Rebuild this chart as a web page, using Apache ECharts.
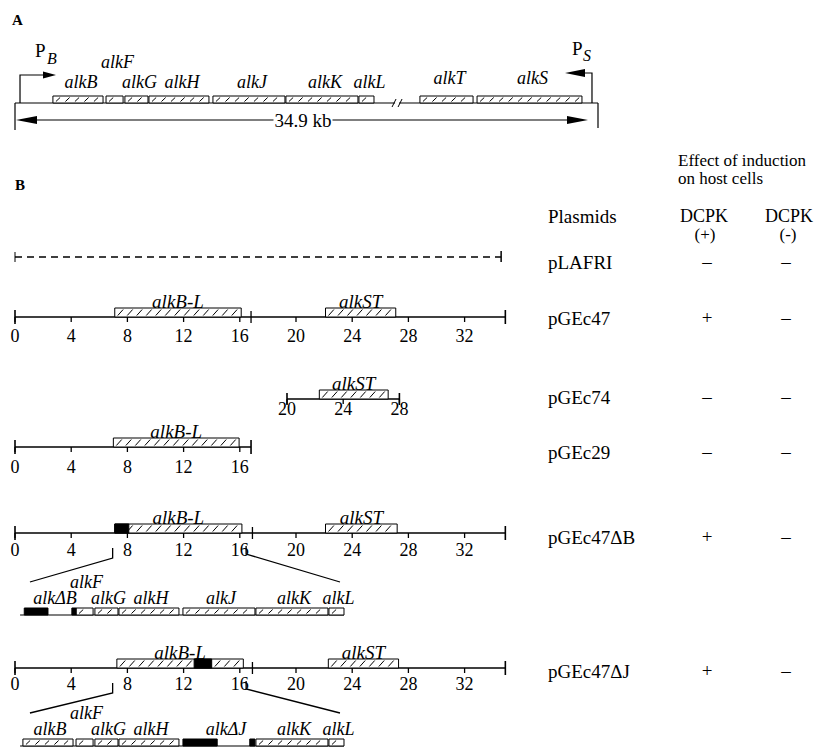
<!DOCTYPE html>
<html><head><meta charset="utf-8">
<script src="https://cdn.jsdelivr.net/npm/echarts@6/dist/echarts.min.js"></script>
<style>html,body{margin:0;padding:0;background:#fff}#c{width:821px;height:747px}</style>
</head><body><div id="c"></div>
<script>
// ---------- DATA ----------
// Panel A: schematic alk gene map (map units, total 34.9 kb)
const mapGenes = ['alkB','alkF','alkG','alkH','alkJ','alkK','alkL','alkT','alkS'];
const mapStart = [2.27, 5.45, 6.58, 8.02, 11.85, 16.22, 20.59, 24.24, 27.66];
const mapEnd   = [5.27, 6.47, 7.96, 11.61, 16.16, 20.53, 21.49, 27.42, 33.94];
const mapTotalKb = 34.9;
const mapBreak = 22.87;
const promoterB = 0.3, promoterS = 34.54;
const totalLabel = '34.9 kb';

// Expanded maps (same map units as panel A)
const deltaBLabels = ['alkΔB','alkF','alkG','alkH','alkJ','alkK','alkL'];
const deltaBBlack = [[2.35, 3.77], [5.2, 5.45]];
const deltaJLabels = ['alkB','alkF','alkG','alkH','alkΔJ','alkK','alkL'];
const deltaJBlack = [[11.85, 13.9], [15.85, 16.16]];
const expandedStart = [2.1, 2.1];

// Panel B: plasmids (kb)
const plasmids = ['pLAFRI','pGEc47','pGEc74','pGEc29','pGEc47ΔB','pGEc47ΔJ'];
const plasmidStart = [0, 0, 20, 0, 0, 0];
const plasmidEnd   = [34.6, 34.9, 28, 16.8, 34.9, 34.9];
const plasmidJoin  = [null, 16.8, null, null, 16.9, 16.9];
const rowTicks = [[], [0,4,8,12,16,20,24,28,32], [20,24,28], [0,4,8,12,16], [0,4,8,12,16,20,24,28,32], [0,4,8,12,16,20,24,28,32]];
const alkBLStart = [null, 7.1, null, 7.0, 7.1, 7.25];
const alkBLEnd   = [null, 16.1, null, 15.95, 16.15, 16.25];
const alkSTStart = [null, 22.1, 22.3, null, 22.1, 22.3];
const alkSTEnd   = [null, 27.1, 27.2, null, 27.2, 27.3];
const deletionStart = [null, null, null, null, 7.1, 12.75];
const deletionEnd   = [null, null, null, null, 8.1, 14.0];
const inductionPlus  = ['–','+','–','–','+','+'];
const inductionMinus = ['–','–','–','–','–','–'];
const bracketTopKb = [6.95, 16.45];
const bracketMapU  = [2.69, 21.25];

// ---------- LAYOUT ----------
const L = {
  mapA: 103,
  expanded: [615, 746],
  rowY: [257, 317, 399, 447, 533, 668],
  rowShift: [0, 0, -9, 0, 0, 0],
  tickLabelGap: [0, 19, 10, 20, 17, 16],
  labelY: [262, 318, 397, 452, 537, 671],
  colPlasmid: 548, colPlus: 707, colMinus: 786
};
const SERIF = '"Liberation Serif", "Times New Roman", serif';
const F = (size, style) => (style ? style + ' ' : '') + size + 'px ' + SERIF;

// ---------- helpers ----------
function ln(x1, y1, x2, y2, w, dash) {
  return {type:'line', shape:{x1, y1, x2, y2}, style:{stroke:'#000', lineWidth:w || 1, lineDash: dash || null}};
}
function txt(s, x, y, font, align) {
  return {type:'text', style:{text:s, x, y, font, align: align || 'center', verticalAlign:'middle', fill:'#000'}};
}
function hatchBox(c, x0, x1, yTop, yBot) {
  c.push({type:'rect', shape:{x:x0, y:yTop, width:x1 - x0, height:yBot - yTop}, style:{fill:'#fff', stroke:'#000', lineWidth:1}});
  const h = yBot - yTop;
  for (let x = x0 + 3; x + h * 0.6 < x1 - 1; x += 9.5) {
    c.push(ln(x, yBot - 1.5, x + h * 0.6, yTop + 1.5, 1));
  }
}
function blackBox(c, x0, x1, yTop, yBot) {
  c.push({type:'rect', shape:{x:x0, y:yTop, width:x1 - x0, height:yBot - yTop}, style:{fill:'#000', stroke:'#000', lineWidth:1}});
}
function arrowHead(x, y, dir, len, half) {
  return {type:'polygon', shape:{points:[[x, y], [x - dir * len, y - half], [x - dir * len, y + half]]}, style:{fill:'#000'}};
}

// ---------- Panel A ----------
function renderMapA(params, api) {
  const c = [];
  const Y = L.mapA;
  const X = u => api.coord([u, Y])[0];
  const xL = X(0), xR = X(mapTotalKb);
  c.push(ln(xL, Y, xR, Y, 1.2));
  c.push(ln(xL, Y, xL, Y + 27, 1.2));
  c.push(ln(xR, Y, xR, Y + 25, 1.2));
  const xb = X(mapBreak);
  c.push({type:'rect', shape:{x:xb - 2, y:Y - 2, width:4, height:4}, style:{fill:'#fff'}});
  c.push(ln(xb - 5, Y + 4, xb - 1, Y - 4));
  c.push(ln(xb + 1, Y + 4, xb + 5, Y - 4));
  for (let i = 0; i < mapGenes.length; i++) {
    const a = X(mapStart[i]), b = X(mapEnd[i]);
    hatchBox(c, a, b, Y - 7, Y);
    const ly = mapGenes[i] === 'alkF' ? Y - 41 : (mapStart[i] > mapBreak ? Y - 25 : Y - 21);
    c.push(txt(mapGenes[i], (a + b) / 2 + 3, ly, F(18, 'italic')));
  }
  const pb = X(promoterB);
  c.push({type:'polyline', shape:{points:[[pb, Y], [pb, Y - 28], [pb + 24, Y - 28]]}, style:{stroke:'#000', fill:null, lineWidth:1.2}});
  c.push(arrowHead(pb + 36, Y - 28, 1, 13, 3.5));
  c.push(txt('P', pb + 15, Y - 53, F(19), 'left'));
  c.push(txt('B', pb + 27, Y - 45, F(16, 'italic'), 'left'));
  const ps = X(promoterS);
  c.push({type:'polyline', shape:{points:[[ps, Y], [ps, Y - 30], [ps - 8, Y - 30]]}, style:{stroke:'#000', fill:null, lineWidth:1.2}});
  c.push(arrowHead(ps - 27, Y - 30, -1, 20, 4));
  c.push(txt('P', ps - 20, Y - 55, F(19), 'left'));
  c.push(txt('S', ps - 9, Y - 48, F(16, 'italic'), 'left'));
  const ay = Y + 17;
  const a0 = X(0.06), a1 = X(34.3);
  c.push(ln(a0 + 10, ay, a1 - 10, ay, 1.2));
  c.push(arrowHead(a0, ay, -1, 21, 4));
  c.push(arrowHead(a1, ay, 1, 21, 4));
  c.push({type:'text', style:{text: totalLabel, x:(a0 + a1) / 2 + 1, y: ay, font: F(19), align:'center', verticalAlign:'middle', fill:'#000', backgroundColor:'#fff', padding:[0, 1]}});
  return {type:'group', children:c};
}

// ---------- Expanded maps ----------
function renderExpanded(params, api) {
  const k = params.dataIndex;
  const Y = L.expanded[k];
  const X = u => api.coord([u, Y])[0];
  const c = [];
  c.push(ln(X(expandedStart[k]), Y, X(mapEnd[6]), Y, 1.2));
  const labels = k === 0 ? deltaBLabels : deltaJLabels;
  const blacks = k === 0 ? deltaBBlack : deltaJBlack;
  const delIdx = k === 0 ? 0 : 4;
  for (let i = 0; i < 7; i++) {
    const a = X(mapStart[i]), b = X(mapEnd[i]);
    if (i !== delIdx) hatchBox(c, a, b, Y - 7, Y);
    const ly = labels[i] === 'alkF' ? Y - 33 : Y - 17;
    const dx = (i === delIdx) ? 7 : 2;
    c.push(txt(labels[i], (a + b) / 2 + dx, ly, F(18, 'italic')));
  }
  blacks.forEach(([s, e]) => blackBox(c, X(s), X(e), Y - 7, Y));
  return {type:'group', children:c};
}

// ---------- Panel B rows ----------
function renderRow(params, api) {
  const i = params.dataIndex;
  const Y = L.rowY[i], sh = L.rowShift[i];
  const X = kb => api.coord([kb, Y])[0] + sh;
  const c = [];
  const x0 = X(plasmidStart[i]), x1 = X(plasmidEnd[i]);
  if (i === 0) {
    c.push(ln(x0, Y, x1, Y, 1.3, [7, 5]));
    c.push(ln(x0, Y - 5, x0, Y + 5));
    c.push(ln(x1, Y - 6, x1, Y + 5, 1.5));
  } else {
    c.push(ln(x0, Y, x1, Y, 1.3));
    const bh = i === 2 ? 6 : 7;
    c.push(ln(x0, Y - bh, x0, Y + bh, 1.6));
    c.push(ln(x1, Y - bh, x1, Y + bh, 1.6));
    if (plasmidJoin[i] != null) { const xj = X(plasmidJoin[i]); c.push(ln(xj, Y - 6, xj, Y + 6, 1.3)); }
  }
  rowTicks[i].forEach(t => {
    const xt = X(t);
    c.push(ln(xt, Y, xt, Y + 5, 1.3));
    c.push(txt(String(t), xt, Y + L.tickLabelGap[i], F(18)));
  });
  const boxes = [[alkBLStart[i], alkBLEnd[i], 'alkB-L'], [alkSTStart[i], alkSTEnd[i], 'alkST']];
  boxes.forEach(([s, e, name]) => {
    if (s == null) return;
    const a = X(s), b = X(e);
    hatchBox(c, a, b, Y - 9, Y);
    if (deletionStart[i] != null && deletionStart[i] >= s && deletionEnd[i] <= e) {
      blackBox(c, X(deletionStart[i]), X(deletionEnd[i]), Y - 9, Y);
    }
    c.push(txt(name, (a + b) / 2, Y - 16, F(19, 'italic')));
  });
  return {type:'group', children:c};
}

const chart = echarts.init(document.getElementById('c'), null, {renderer:'svg'});
const yAx = g => ({gridIndex:g, type:'value', min:0, max:747, inverse:true, show:false});
const bWidth = 14.05 * 35;
chart.setOption({
  animation:false,
  backgroundColor:'#fff',
  grid:[
    {left:15, top:0, width:583, height:747},
    {left:15, top:0, width:583, height:747},
    {left:15, top:0, width:bWidth, height:747}
  ],
  xAxis:[
    {gridIndex:0, type:'value', min:0, max:mapTotalKb, show:false},
    {gridIndex:1, type:'value', min:30 * mapTotalKb / 583, max:mapTotalKb + 30 * mapTotalKb / 583, show:false},
    {gridIndex:2, type:'value', min:0, max:35, show:false}
  ],
  yAxis:[yAx(0), yAx(1), yAx(2)],
  series:[
    {type:'custom', xAxisIndex:0, yAxisIndex:0, clip:false, silent:true, data:[[0, 0]], renderItem:renderMapA},
    {type:'custom', xAxisIndex:1, yAxisIndex:1, clip:false, silent:true, data:[[0, 0], [1, 0]], renderItem:renderExpanded},
    {type:'custom', xAxisIndex:2, yAxisIndex:2, clip:false, silent:true, data:plasmids.map((p, i) => [i, 0]), renderItem:renderRow}
  ]
});

// second pass: table texts and zoom brackets
const g = [];
const T = (s, x, y, font, align) => ({type:'text', silent:true, style:{text:s, x, y, font, align: align || 'left', verticalAlign:'middle', fill:'#000'}});
g.push(T('A', 12, 20, F(15, 'bold')));
g.push(T('B', 15, 185, F(15, 'bold')));
g.push(T('Effect of induction', 678, 160, F(17)));
g.push(T('on host cells', 678, 178, F(17)));
g.push(T('Plasmids', L.colPlasmid, 216, F(19)));
g.push(T('DCPK', 704, 216, F(18), 'center'));
g.push(T('DCPK', 789, 216, F(18), 'center'));
g.push(T('(+)', 705, 234, F(17), 'center'));
g.push(T('(-)', 788, 234, F(17), 'center'));
plasmids.forEach((p, i) => {
  g.push(T(p, L.colPlasmid, L.labelY[i], F(19)));
  g.push(T(inductionPlus[i], L.colPlus, L.labelY[i] - 1, F(19), 'center'));
  g.push(T(inductionMinus[i], L.colMinus, L.labelY[i] - 1, F(19), 'center'));
});
[4, 5].forEach((row, k) => {
  const Y = L.rowY[row];
  const eY = L.expanded[k] - 33;
  const tL = chart.convertToPixel({gridIndex:2}, [bracketTopKb[0], Y])[0];
  const tR = chart.convertToPixel({gridIndex:2}, [bracketTopKb[1], Y])[0];
  const bL = chart.convertToPixel({gridIndex:1}, [bracketMapU[0], eY])[0];
  const bR = chart.convertToPixel({gridIndex:1}, [bracketMapU[1], eY])[0];
  g.push({type:'polyline', silent:true, shape:{points:[[tL, Y + 15], [tL, Y + 25], [bL, eY]]}, style:{stroke:'#000', fill:null, lineWidth:1.3}});
  g.push({type:'polyline', silent:true, shape:{points:[[tR, Y + 13], [tR, Y + 21], [bR, eY]]}, style:{stroke:'#000', fill:null, lineWidth:1.3}});
});
chart.setOption({graphic:g});
</script>
</body></html>
